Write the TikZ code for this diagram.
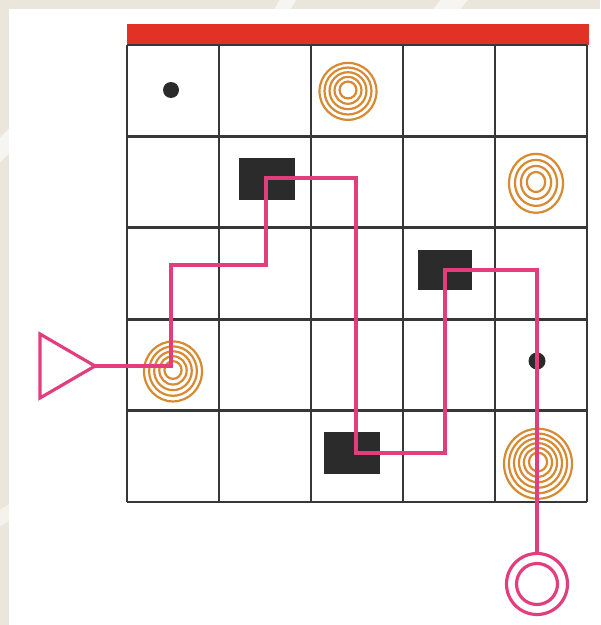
\documentclass[tikz,border=0pt]{standalone}
\usepackage{tikz}
\usetikzlibrary{calc}
\definecolor{sand}{RGB}{235,230,220}
\definecolor{barred}{RGB}{226,50,38}
\definecolor{routepink}{RGB}{226,62,126}
\definecolor{woodorange}{RGB}{215,138,50}
\definecolor{blockgray}{RGB}{43,43,43}
\definecolor{gridgray}{RGB}{55,55,55}

% rings: centre x, centre y, x radius, y radius, number of rings
\newcommand{\woodring}[5]{%
  \foreach \r in {1,...,#5}
    \draw[woodorange, line width=1.25pt]
      (#1, {#2 + 0.06*#4*(\r-1)/#5}) ellipse [x radius={#3*(0.12+0.88*\r/#5)}, y radius={#4*(0.12+0.88*\r/#5)}];
}

\begin{document}
\begin{tikzpicture}[x=0.02cm, y=-0.02cm,
    gridline/.style={gridgray, line width=1.6pt},
    route/.style={routepink, line width=1.8pt, line join=miter},
    block/.style={fill=blockgray},
    pebble/.style={fill=blockgray}]
    % Background and panel
    \fill[sand] (0,0) rectangle (600,625);
    \begin{scope}
      \clip (0,0) rectangle (600,9) (0,0) rectangle (9,625);
      \draw[white, line width=8pt, opacity=0.6] (270,30) -- (300,-20);
      \draw[white, line width=12pt, opacity=0.6] (430,30) -- (470,-20);
      \draw[white, line width=10pt, opacity=0.6] (-20,170) -- (30,120);
      \draw[white, line width=8pt, opacity=0.5] (-20,530) -- (30,500);
    \end{scope}
    \fill[white] (9,9) rectangle (600,625);
    \useasboundingbox (0,0) rectangle (600,625);

    % Red bar on top
    \fill[barred] (127,24) rectangle (589,45);

    % Blocks and pebbles
    \fill[block] (239,158) rectangle (295,200);
    \fill[block] (418,250) rectangle (472,290);
    \fill[block] (324,432) rectangle (380,474);
    \fill[pebble] (171,90) circle [radius=8];
    \fill[pebble] (537,361) circle [radius=8.5];

    % Wood rings
    \woodring{348}{90}{28.5}{28.5}{5}
    \woodring{536}{182}{27}{29.5}{4}
    \woodring{173}{370}{29}{30}{5}
    \woodring{538}{462}{34}{35}{6}

    % Grid 5x5
    \foreach \i in {0,...,5} {
      \draw[gridline] (127+92*\i,45) -- (127+92*\i,502);
      \draw[gridline] (127,45+91.4*\i) -- (587,45+91.4*\i);
    }

    % Route
    \coordinate (start) at (95,366);
    \coordinate (a) at (171,366);
    \coordinate (b) at (171,265);
    \coordinate (c) at (266,265);
    \coordinate (d) at (266,178);
    \coordinate (e) at (356,178);
    \coordinate (f) at (356,453);
    \coordinate (g) at (445,453);
    \coordinate (h) at (445,270);
    \coordinate (k) at (537,270);
    \node[draw=routepink, line width=1.8pt, circle, minimum size=1.22cm, inner sep=0pt] (goal) at (537,584) {};
    \node[draw=routepink, line width=1.8pt, circle, minimum size=0.82cm, inner sep=0pt] (goalin) at (goal) {};
    \draw[route] (start) -- (40,334) -- (40,398) -- cycle;
    \draw[route] (start) -- (a) -- (b) -- (c) -- (d) -- (e) -- (f) -- (g) -- (h) -- (k) -- (goal.north);
\end{tikzpicture}
\end{document}
